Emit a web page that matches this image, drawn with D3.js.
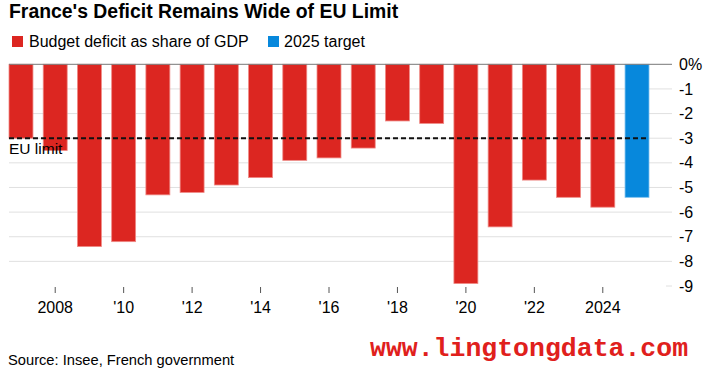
<!DOCTYPE html>
<html>
<head>
<meta charset="utf-8">
<script src="https://cdn.jsdelivr.net/npm/d3@7"></script>
<style>
  body { margin: 0; background: #fff; }
  svg { font-family: "Liberation Sans", Arial, sans-serif; display: block; }
</style>
</head>
<body>
<svg id="chart" width="709" height="377"></svg>
<script>
// data
const years = [2007, 2008, 2009, 2010, 2011, 2012, 2013, 2014, 2015, 2016,
               2017, 2018, 2019, 2020, 2021, 2022, 2023, 2024, 2025];
const deficit = [-3.0, -3.5, -7.4, -7.2, -5.3, -5.2, -4.9, -4.6, -3.9, -3.8,
                 -3.4, -2.3, -2.4, -8.9, -6.6, -4.7, -5.4, -5.8, -5.4];
const targetYear = 2025;
const euLimit = -3;
const yTicks = [0, -1, -2, -3, -4, -5, -6, -7, -8, -9];
const xTicks = [2008, 2010, 2012, 2014, 2016, 2018, 2020, 2022, 2024];
const seriesNames = ["Budget deficit as share of GDP", "2025 target"];

const red = "#dc2621", blue = "#0788dc";

const svg = d3.select("#chart");

const x = d3.scaleBand()
            .domain(years)
            .range([9, 649])
            .paddingInner(0.3)
            .paddingOuter(0);

const y = d3.scaleLinear()
            .domain([-9, 0])
            .range([286, 64.3]);

const gridRight = 672;

// titre
svg.append("text")
   .attr("x", 9)
   .attr("y", 18)
   .style("font-size", "19.4px")
   .style("font-weight", "bold")
   .attr("fill", "#000")
   .text("France's Deficit Remains Wide of EU Limit");

// légende
const legend = svg.append("g");
[[12, 29, red], [268, 284, blue]].forEach((p, i) => {
    legend.append("rect")
          .attr("x", p[0]).attr("y", 36)
          .attr("width", 11).attr("height", 11)
          .attr("fill", p[2]);
    legend.append("text")
          .attr("x", p[1]).attr("y", 47)
          .style("font-size", "16px")
          .text(seriesNames[i]);
});

// grille
svg.append("g")
   .selectAll("line")
   .data(yTicks.filter(d => d < 0 && d > -9))
   .enter()
   .append("line")
   .attr("x1", 9).attr("x2", gridRight)
   .attr("y1", d => y(d)).attr("y2", d => y(d))
   .attr("stroke", "#e0e0e0")
   .attr("stroke-width", 1);

svg.append("line")
   .attr("x1", gridRight - 6).attr("x2", gridRight)
   .attr("y1", y(-9)).attr("y2", y(-9))
   .attr("stroke", "#e0e0e0");

// barres
svg.append("g")
   .selectAll("rect")
   .data(years.map((yr, i) => ({ year: yr, value: deficit[i] })))
   .enter()
   .append("rect")
   .attr("x", d => x(d.year))
   .attr("y", y(0))
   .attr("width", x.bandwidth())
   .attr("height", d => y(d.value) - y(0))
   .attr("fill", d => d.year === targetYear ? blue : red)
   .attr("stroke", d => d.year === targetYear ? "#7cc0ef" : "#ef8a86")
   .attr("stroke-width", 0.8);

// ligne zéro
svg.append("line")
   .attr("x1", 9).attr("x2", gridRight)
   .attr("y1", y(0)).attr("y2", y(0))
   .attr("stroke", "#777")
   .attr("stroke-width", 1);

// limite UE
svg.append("line")
   .attr("x1", 9).attr("x2", x(targetYear) + x.bandwidth())
   .attr("y1", y(euLimit)).attr("y2", y(euLimit))
   .attr("stroke", "#111")
   .attr("stroke-width", 2)
   .attr("stroke-dasharray", "5,3");

svg.append("text")
   .attr("x", 9)
   .attr("y", 154)
   .style("font-size", "15.5px")
   .text("EU limit");

// axe Y
const yAxis = svg.append("g")
   .attr("transform", `translate(${gridRight},0)`)
   .call(d3.axisRight(y)
           .tickValues(yTicks)
           .tickSize(0)
           .tickPadding(7)
           .tickFormat(d => d === 0 ? "0%" : String(d)));
yAxis.select(".domain").remove();
yAxis.selectAll("text")
     .style("font-size", "16px")
     .style("font-family", "Liberation Sans, Arial, sans-serif")
     .attr("fill", "#000");

// axe X
const xAxis = svg.append("g")
   .attr("transform", "translate(0,287)")
   .call(d3.axisBottom(x)
           .tickValues(xTicks)
           .tickSize(6)
           .tickPadding(8.6)
           .tickFormat(d => (d === 2008 || d === 2024) ? String(d) : "'" + String(d).slice(2)));
xAxis.select(".domain").remove();
xAxis.selectAll("line").attr("stroke", "#555");
xAxis.selectAll("text")
     .style("font-size", "16px")
     .style("font-family", "Liberation Sans, Arial, sans-serif")
     .attr("fill", "#000");

// source
svg.append("text")
   .attr("x", 8)
   .attr("y", 365)
   .style("font-size", "14.7px")
   .text("Source: Insee, French government");

// filigrane
svg.append("text")
   .attr("x", 370)
   .attr("y", 356)
   .style("font-family", "Liberation Mono, DejaVu Sans Mono, monospace")
   .style("font-size", "26.5px")
   .style("font-weight", "bold")
   .attr("fill", "#e0201c")
   .text("www.lingtongdata.com");
</script>
</body>
</html>
